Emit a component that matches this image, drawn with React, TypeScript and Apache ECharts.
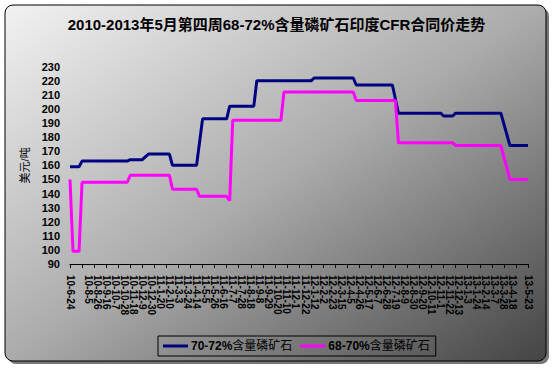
import React, { useEffect, useRef } from "react";
import * as echarts from "echarts";

const titleText = "2010-2013年5月第四周68-72%含量磷矿石印度CFR合同价走势";
const yAxisName = "美元/吨";

// weekly category labels (yy-m-d)
const weeks: string[] = [
  "10-6-24","10-7-1","10-7-8","10-7-15","10-7-22","10-7-29","10-8-5","10-8-12","10-8-19","10-8-26",
  "10-9-2","10-9-9","10-9-16","10-9-23","10-9-30","10-10-7","10-10-14","10-10-21","10-10-28","10-11-4",
  "10-11-11","10-11-18","10-11-25","10-12-2","10-12-9","10-12-16","10-12-23","10-12-30",
  "11-1-6","11-1-13","11-1-20","11-1-27","11-2-3","11-2-10","11-2-17","11-2-24","11-3-3","11-3-10",
  "11-3-17","11-3-24","11-3-31","11-4-7","11-4-14","11-4-21","11-4-28","11-5-5","11-5-12","11-5-19",
  "11-5-26","11-6-2","11-6-9","11-6-16","11-6-23","11-6-30","11-7-7","11-7-14","11-7-21","11-7-28",
  "11-8-4","11-8-11","11-8-18","11-8-25","11-9-1","11-9-8","11-9-15","11-9-22","11-9-29","11-10-6",
  "11-10-13","11-10-20","11-10-27","11-11-3","11-11-10","11-11-17","11-11-24","11-12-1","11-12-8","11-12-15",
  "11-12-22","11-12-29",
  "12-1-5","12-1-12","12-1-19","12-1-26","12-2-2","12-2-9","12-2-16","12-2-23","12-3-1","12-3-8",
  "12-3-15","12-3-22","12-3-29","12-4-5","12-4-12","12-4-19","12-4-26","12-5-3","12-5-10","12-5-17",
  "12-5-24","12-5-31","12-6-7","12-6-14","12-6-21","12-6-28","12-7-5","12-7-12","12-7-19","12-7-26",
  "12-8-2","12-8-9","12-8-16","12-8-23","12-8-30","12-9-6","12-9-13","12-9-20","12-9-27","12-10-4",
  "12-10-11","12-10-18","12-10-25","12-11-1","12-11-8","12-11-15","12-11-22","12-11-29","12-12-6","12-12-13",
  "12-12-20","12-12-27",
  "13-1-3","13-1-10","13-1-17","13-1-24","13-1-31","13-2-7","13-2-14","13-2-21","13-2-28","13-3-7",
  "13-3-14","13-3-21","13-3-28","13-4-4","13-4-11","13-4-18","13-4-25","13-5-2","13-5-9","13-5-16",
  "13-5-23",
];

const seriesNames = ["70-72%含量磷矿石", "68-70%含量磷矿石"];

// [week index, price USD/t] at each change of price
const grade7072: [number, number][] = [
  [0, 159], [3, 159], [4, 163], [19, 163], [20, 164], [24, 164], [26, 168], [33, 168], [34, 160],
  [42, 160], [44, 193], [52, 193], [53, 202], [61, 202], [62, 220], [80, 220], [81, 222], [94, 222],
  [95, 217], [107, 217], [109, 197], [123, 197], [124, 195], [127, 195], [128, 197], [143, 197],
  [146, 174], [152, 174],
];
const grade6870: [number, number][] = [
  [0, 150], [1, 99], [3, 99], [4, 148], [19, 148], [20, 153], [33, 153], [34, 143], [42, 143],
  [43, 138], [52, 138], [53, 135], [54, 192], [70, 192], [71, 212], [94, 212], [95, 206],
  [108, 206], [109, 176], [127, 176], [128, 174], [143, 174], [146, 150], [152, 150],
];

const FONT = '"Liberation Sans", "Noto Sans CJK SC", sans-serif';

export default function App() {
  const ref = useRef<HTMLDivElement>(null);
  useEffect(() => {
    document.body.style.margin = "0";
    const chart = echarts.init(ref.current!, null, { renderer: "svg" });
    chart.setOption({
      animation: false,
      textStyle: { fontFamily: FONT },
      graphic: [
        {
          type: "rect",
          z: -20,
          silent: true,
          shape: { x: 8, y: 8, width: 541, height: 356, r: 8 },
          style: { fill: "#777" },
        },
        {
          type: "rect",
          z: -10,
          silent: true,
          shape: { x: 5, y: 5, width: 541, height: 356, r: 8 },
          style: {
            stroke: "#000",
            lineWidth: 1,
            fill: new echarts.graphic.LinearGradient(0, 0, 1, 1, [
              { offset: 0, color: "#f2f2f2" },
              { offset: 0.5, color: "#ababab" },
              { offset: 1, color: "#444444" },
            ]),
          },
        },
      ],
      title: {
        text: titleText,
        left: "center",
        top: 12,
        textStyle: { fontFamily: FONT, fontSize: 15, fontWeight: "bold", color: "#000" },
      },
      legend: {
        left: 158,
        top: 336,
        padding: [4, 6, 4, 5],
        itemGap: 8,
        itemWidth: 25,
        itemHeight: 3,
        icon: "rect",
        borderColor: "#000",
        borderWidth: 1,
        data: seriesNames,
        formatter: (name: string) => {
          const i = name.indexOf("%") + 1;
          return `{b|${name.slice(0, i)}}{n|${name.slice(i)}}`;
        },
        textStyle: {
          padding: [0, 0, 0, -2],
          rich: {
            b: { fontFamily: FONT, fontSize: 12, fontWeight: "bold", color: "#000" },
            n: { fontFamily: FONT, fontSize: 12, color: "#000" },
          },
        },
      },
      grid: { left: 70, right: 25, top: 66.7, bottom: 104, containLabel: false },
      xAxis: {
        type: "category",
        data: weeks,
        boundaryGap: false,
        axisLine: { show: true, lineStyle: { color: "#000", width: 1 } },
        axisTick: { show: true, interval: 3, length: 4, lineStyle: { color: "#000" } },
        axisLabel: {
          interval: 2,
          rotate: -90,
          margin: 11,
          hideOverlap: false,
          showMinLabel: true,
          showMaxLabel: true,
          fontSize: 10,
          fontWeight: "bold",
          fontFamily: FONT,
          color: "#000",
        },
        splitLine: { show: false },
      },
      yAxis: {
        type: "value",
        min: 90,
        max: 230,
        interval: 10,
        name: yAxisName,
        nameLocation: "middle",
        nameGap: 40,
        nameTextStyle: { fontFamily: FONT, fontSize: 11, color: "#000" },
        axisLine: { show: false },
        axisTick: { show: false },
        splitLine: { show: false },
        axisLabel: { fontSize: 11, fontWeight: "bold", fontFamily: FONT, color: "#000", margin: 10 },
      },
      series: [
        {
          name: seriesNames[0],
          type: "line",
          data: grade7072,
          showSymbol: false,
          lineStyle: { color: "#000080", width: 3 },
          itemStyle: { color: "#000080" },
        },
        {
          name: seriesNames[1],
          type: "line",
          data: grade6870,
          showSymbol: false,
          lineStyle: { color: "#ff00ff", width: 3 },
          itemStyle: { color: "#ff00ff" },
        },
      ],
    });
    return () => chart.dispose();
  }, []);
  return <div ref={ref} style={{ width: 553, height: 368 }} />;
}
